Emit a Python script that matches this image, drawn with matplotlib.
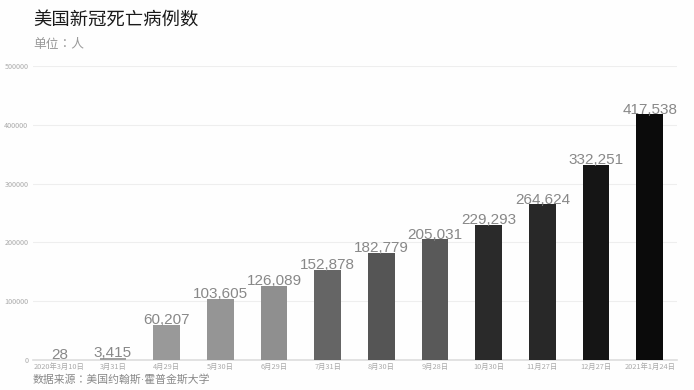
import matplotlib.pyplot as plt
import numpy as np

plt.rcParams['font.family'] = ['Noto Sans CJK SC', 'DejaVu Sans']

dates = ['2020年3月10日', '3月31日', '4月29日', '5月30日', '6月29日', '7月31日',
         '8月30日', '9月28日', '10月30日', '11月27日', '12月27日', '2021年1月24日']
deaths = [28, 3415, 60207, 103605, 126089, 152878,
          182779, 205031, 229293, 264624, 332251, 417538]
bar_colors = ['#a8a8a8', '#a0a0a0', '#999999', '#959595', '#8f8f8f', '#656565',
              '#555555', '#595959', '#2a2a2a', '#282828', '#151515', '#0b0b0b']
yticks = [0, 100000, 200000, 300000, 400000, 500000]

fig = plt.figure(figsize=(6.94, 3.9), dpi=100)
fig.patch.set_facecolor('#fefefe')
ax = fig.add_axes([32.5/694, 30/390, 644/694, 294/390])
ax.set_facecolor('#fefefe')

x = np.arange(len(dates))
ax.bar(x, deaths, width=0.5, color=bar_colors, zorder=3)

for xi, v in zip(x, deaths):
    ax.annotate(f'{v:,}', (xi, v), xytext=(0, 0.5), textcoords='offset points',
                ha='center', va='baseline', fontsize=11, color='#888888',
                family=['Liberation Sans'], zorder=4)

ax.set_xlim(-0.5, 11.5)
ax.set_ylim(0, 500000)
ax.set_yticks(yticks)
ax.set_yticklabels([str(t) for t in yticks])
ax.set_xticks(x)
ax.set_xticklabels(dates)
ax.tick_params(axis='y', length=0, pad=3, labelsize=5.2, labelcolor='#aaaaaa')
ax.tick_params(axis='x', length=0, pad=2, labelsize=5.3, labelcolor='#aaaaaa')
ax.grid(axis='y', color='#eeeeee', linewidth=0.8, zorder=0)
for s in ['top', 'right', 'left']:
    ax.spines[s].set_visible(False)
ax.spines['bottom'].set_color('#dddddd')
ax.spines['bottom'].set_linewidth(1.2)

fig.text(33/694, 1 - 21/390, '美国新冠死亡病例数', fontsize=13.2, color='#1a1a1a',
         ha='left', va='center')
fig.text(33/694, 1 - 45/390, '单位：人', fontsize=9.2, color='#999999',
         ha='left', va='center', family=['Liberation Sans', 'Noto Sans CJK TC'])
fig.text(33/694, 1 - 380/390, '数据来源：美国约翰斯·霍普金斯大学', fontsize=7.8,
         color='#888888', ha='left', va='center',
         family=['Liberation Sans', 'Noto Sans CJK TC'])

fig.savefig('out.png', dpi=100, facecolor=fig.get_facecolor())
